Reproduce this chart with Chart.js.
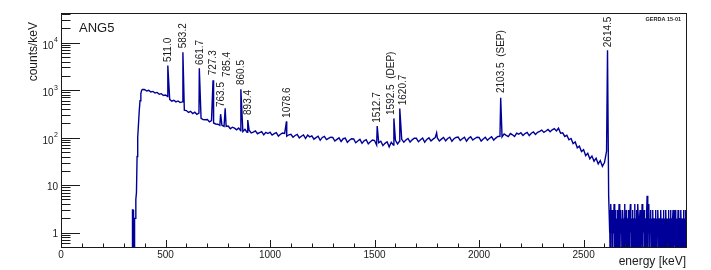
<!DOCTYPE html>
<html lang="en">
<head><meta charset="utf-8">
<title>ANG5 - energy spectrum</title>
<script src="https://cdn.jsdelivr.net/npm/chart.js@4.4.7/dist/chart.umd.min.js"></script>
<style>
*{margin:0;padding:0;box-sizing:border-box}
body{background:#fff;width:711px;height:270px;overflow:hidden}
</style>
</head>
<body>
<canvas id="spec" width="711" height="270"></canvas>
<script>
// threshold region (keV / counts per keV)
const edgeE      = [340, 342, 345, 347, 350, 352, 356, 358, 361, 364, 367, 370, 374, 378, 382, 386, 392, 396];
const edgeCounts = [0,   3,   3,   0,   0,   2,   2,   5,   7,   40,  100, 170, 350, 600, 850, 1000, 1040, 1020];

// continuum, one value every 10 keV starting at 400 keV
const contStart = 400, contStep = 10;
const contCounts = [
  1030, 960, 990, 915, 940, 872, 895, 818, 842, 772,
  790, 735, 640, 585, 612, 566, 592, 548, 566, 380,
  372, 340, 358, 322, 344, 310, 328, 256, 240, 238,
  240, 216, 228, 204, 194, 192, 182, 182, 172, 172,
  176, 154, 166, 158, 146, 160, 140, 134, 150, 130,
  144, 126, 131, 139, 121, 128, 134, 115, 129, 122,
  130, 113, 121, 127, 108, 118, 125, 123, 107, 115,
  118, 102, 111, 117, 99, 107, 114, 96, 113, 104,
  109, 93, 100, 107, 88, 101, 106, 91, 97, 102,
  101, 85, 92, 99, 83, 95, 98, 80, 88, 95,
  94, 78, 85, 92, 76, 86, 91, 74, 82, 89,
  87, 70, 78, 84, 68, 76, 82, 64, 80, 70,
  88, 74, 85, 92, 80, 89, 96, 81, 90, 97,
  97, 82, 90, 98, 80, 92, 99, 85, 93, 100,
  100, 85, 93, 101, 86, 96, 102, 84, 95, 101,
  103, 87, 95, 102, 84, 97, 104, 89, 96, 102,
  101, 85, 94, 102, 88, 97, 104, 89, 98, 106,
  107, 104, 120, 112, 105, 122, 115, 106, 124, 118,
  127, 111, 122, 129, 110, 124, 132, 117, 130, 136,
  144, 129, 138, 149, 133, 146, 155, 139, 158, 124,
  126, 106, 112, 90, 96, 75, 81, 61, 66, 51,
  56, 42, 47, 36, 41, 32, 37, 28, 33, 25,
  30, 52
];

// gamma lines
const peakE     = [511.0, 583.2, 661.7, 727.3, 763.5, 785.4, 860.5, 893.4, 1078.6, 1512.7, 1592.5, 1620.7, 1797, 2103.5, 2614.5];
const peakTop   = [3300,  6300,  2900,  1620,  312,   415,   1040,  234,   220,    175,    254,    412,    126,  690,    6900];
const peakLabel = ['511.0', '583.2', '661.7', '727.3', '763.5', '785.4', '860.5', '893.4', '1078.6', '1512.7', '1592.5  (DEP)', '1620.7', '', '2103.5  (SEP)', '2614.5'];
const labelAt   = [3900,  7600,  3400,  2050,  440,   1900,  1280,  300,   260,    205,    300,    480,    0,    870,    8000];

// above the 2614.5 line, one value every 2 keV starting at 2620 keV
const tailStart = 2620, tailStep = 2;
const tailCounts = [
  6, 3, 1, 2, 0, 4, 2, 1, 3, 0,
  2, 1, 2, 4, 0, 1, 3, 2, 0, 2,
  1, 3, 0, 1, 2, 4, 1, 0, 2, 3,
  1, 2, 0, 1, 3, 1, 2, 0, 4, 1,
  2, 0, 3, 1, 2, 1, 0, 2, 3, 1,
  0, 2, 4, 1, 2, 0, 1, 3, 2, 0,
  1, 2, 1, 4, 0, 2, 1, 3, 0, 1,
  4, 2, 0, 1, 2, 3, 1, 0, 2, 1,
  4, 0, 1, 2, 1, 3, 0, 2, 1, 2,
  0, 3, 6, 0, 2, 1, 4, 1, 0, 2,
  3, 1, 2, 0, 1, 2, 3, 0, 1, 2,
  1, 0, 3, 2, 1, 0, 2, 1, 3, 1,
  0, 2, 1, 2, 0, 3, 1, 2, 0, 1,
  2, 3, 0, 1, 2, 1, 0, 3, 1, 2,
  0, 2, 1, 3, 0, 1, 2, 0, 3, 1,
  2, 1, 0, 2, 3, 1, 0, 2, 1, 3,
  0, 2, 1, 0, 2, 1, 3, 1, 0, 2,
  1, 2, 0, 3, 1, 2, 0, 1, 2, 3,
  1, 0, 2, 1, 3, 0, 2, 1, 2, 0
];

const xTicks = [0, 500, 1000, 1500, 2000, 2500];
const yDecades = [0, 1, 2, 3, 4];

const FONT = "'Liberation Sans', Arial, sans-serif";
const LINE = '#000099';
const INK = '#1a1a1a';
const LOG_FLOOR = 0.1; // empty bins sit below the axis
// a few crowded labels are pushed sideways (px)
const labelNudge = { '785.4': 2, '1592.5  (DEP)': -3, '1620.7': 2.5 };

const points = [];
edgeE.forEach((e, i) => points.push({ x: e, y: edgeCounts[i] }));
contCounts.forEach((c, i) => points.push({ x: contStart + i * contStep, y: c }));
peakE.forEach((e, i) => points.push({ x: e, y: peakTop[i] }));
tailCounts.forEach((c, i) => points.push({ x: tailStart + i * tailStep, y: c }));
points.sort((a, b) => a.x - b.x);
points.forEach(p => { if (p.y <= 0) p.y = LOG_FLOOR; });

const rootStyle = {
  id: 'rootStyle',
  afterDatasetsDraw(chart) {
    const ctx = chart.ctx, a = chart.chartArea;
    const xs = chart.scales.x, ys = chart.scales.y;
    ctx.save();

    // frame + ticks
    ctx.strokeStyle = INK; ctx.lineWidth = 1;
    ctx.strokeRect(a.left + 0.5, a.top + 0.5, a.right - a.left, a.bottom - a.top);
    ctx.beginPath();
    for (let e = 100; e < xs.max; e += 100) {
      const px = Math.round(xs.getPixelForValue(e)) + 0.5;
      const len = e % 500 === 0 ? 7 : 3.5;
      ctx.moveTo(px, a.bottom); ctx.lineTo(px, a.bottom - len);
    }
    for (let d = -1; d <= 4; d++) {
      for (let k = 1; k <= 9; k++) {
        const v = k * Math.pow(10, d);
        if (v < ys.min || v > ys.max) continue;
        const py = Math.round(ys.getPixelForValue(v)) + 0.5;
        ctx.moveTo(a.left, py); ctx.lineTo(a.left + (k === 1 ? 19 : 9.5), py);
      }
    }
    ctx.stroke();

    // y tick labels, 10 with raised exponent
    ctx.fillStyle = INK;
    ctx.textAlign = 'right'; ctx.textBaseline = 'alphabetic';
    yDecades.forEach(d => {
      const py = ys.getPixelForValue(Math.pow(10, d));
      const right = a.left - 3;
      if (d < 2) {
        ctx.font = '10px ' + FONT;
        ctx.fillText(d === 0 ? '1' : '10', right, py + 4.5);
      } else {
        ctx.font = '7px ' + FONT;
        const w = ctx.measureText(String(d)).width;
        ctx.fillText(String(d), right, py - 0.5);
        ctx.font = '10px ' + FONT;
        ctx.fillText('10', right - w - 0.5, py + 6);
      }
    });

    // line labels
    ctx.font = '10px ' + FONT;
    ctx.textAlign = 'left'; ctx.textBaseline = 'middle';
    peakLabel.forEach((t, i) => {
      if (!t) return;
      ctx.save();
      ctx.translate(xs.getPixelForValue(peakE[i]) + (labelNudge[t] || 0), ys.getPixelForValue(labelAt[i]));
      ctx.rotate(-Math.PI / 2);
      ctx.fillText(t, 0, 0.5);
      ctx.restore();
    });

    // titles and tags
    ctx.textBaseline = 'alphabetic';
    ctx.font = '12px ' + FONT;
    ctx.textAlign = 'right';
    ctx.fillText('energy [keV]', a.right, 265);
    ctx.save();
    ctx.translate(37, 22);
    ctx.rotate(-Math.PI / 2);
    ctx.fillText('counts/keV', 0, 0);
    ctx.restore();
    ctx.font = 'bold 5.5px ' + FONT;
    ctx.fillText('GERDA 15-01', a.right - 5, 20.5);
    ctx.textAlign = 'left';
    ctx.font = '13px ' + FONT;
    ctx.fillText('ANG5', 79, 32);
    ctx.restore();
  }
};

new Chart(document.getElementById('spec'), {
  type: 'line',
  data: {
    datasets: [{
      data: points,
      borderColor: LINE,
      borderWidth: 1.4,
      pointRadius: 0,
      tension: 0,
      fill: false
    }]
  },
  options: {
    responsive: false,
    animation: false,
    events: [],
    layout: { padding: { left: 61, right: 25, top: 13, bottom: 0 } },
    plugins: { legend: { display: false }, tooltip: { enabled: false } },
    scales: {
      x: {
        type: 'linear', min: 0, max: 2990,
        grid: { display: false, drawTicks: false },
        border: { display: false },
        afterBuildTicks: ax => { ax.ticks = xTicks.map(v => ({ value: v })); },
        afterFit: ax => { ax.height = 23; },
        ticks: {
          autoSkip: false, maxRotation: 0, padding: 2, color: INK,
          font: { family: FONT, size: 10 },
          callback: v => String(v)
        }
      },
      y: { type: 'logarithmic', min: 0.5, max: 42000, display: false }
    }
  },
  plugins: [rootStyle]
});
</script>
</body>
</html>
